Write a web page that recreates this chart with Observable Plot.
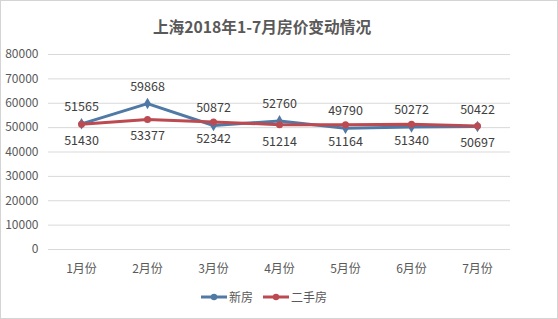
<!DOCTYPE html>
<html>
<head>
<meta charset="utf-8">
<script src="https://cdn.jsdelivr.net/npm/d3@7"></script>
<script src="https://cdn.jsdelivr.net/npm/@observablehq/plot@0.6"></script>
<style>
  html, body { margin: 0; padding: 0; background: #fff; }
  #wrap { width: 558px; height: 319px; box-sizing: border-box; border: 1px solid #d4d4d4; position: relative; font-family: "Noto Sans CJK SC", sans-serif; overflow: hidden; }
  #title { height: 39px; line-height: 52px; text-align: center; font-size: 15.7px; font-weight: bold; color: #595959; padding-right: 34px; }
  #legend { position: absolute; left: 0; right: 30px; top: 287px; display: flex; justify-content: center; align-items: center; font-size: 12px; color: #595959; gap: 10px; }
  .key { display: flex; align-items: center; }
  .key svg { margin-right: 2px; }
</style>
</head>
<body>
<div id="wrap">
  <div id="title">上海2018年1-7月房价变动情况</div>
  <div id="chart"></div>
  <div id="legend"></div>
</div>
<script>
const months = ["1月份", "2月份", "3月份", "4月份", "5月份", "6月份", "7月份"];
const seriesNames = ["新房", "二手房"];
const newHouse = [51565, 59868, 50872, 52760, 49790, 50272, 50422];
const secondHand = [51430, 53377, 52342, 51214, 51164, 51340, 50697];
const yTicks = [0, 10000, 20000, 30000, 40000, 50000, 60000, 70000, 80000];
const colors = ["#5079a6", "#bc4a51"];

const rows = [];
months.forEach((m, i) => {
  rows.push({month: m, value: newHouse[i], series: seriesNames[0]});
  rows.push({month: m, value: secondHand[i], series: seriesNames[1]});
});
const blue = rows.filter(d => d.series === seriesNames[0]);
const red = rows.filter(d => d.series === seriesNames[1]);

const chart = Plot.plot({
  width: 556,
  height: 245,
  marginTop: 14,
  marginBottom: 36,
  marginLeft: 47,
  marginRight: 47,
  style: {fontFamily: "'Noto Sans CJK SC', sans-serif", color: "#595959", background: "transparent"},
  x: {domain: months, type: "point", padding: 0.5, label: null},
  y: {domain: [0, 80000], ticks: yTicks, label: null},
  marks: [
    Plot.gridY(yTicks, {stroke: "#d9d9d9", strokeOpacity: 1, strokeWidth: 1}),
    Plot.axisY(yTicks, {tickSize: 0, tickPadding: 10, fontSize: 12, label: null, tickFormat: d => String(d), fill: "#595959"}),
    Plot.axisX({tickSize: 0, tickPadding: 15, fontSize: 12, label: null, fill: "#595959"}),
    Plot.line(blue, {x: "month", y: "value", stroke: colors[0], strokeWidth: 3}),
    Plot.line(red, {x: "month", y: "value", stroke: colors[1], strokeWidth: 3}),
    Plot.dot(blue, {x: "month", y: "value", fill: colors[0], r: 3.5, symbol: "diamond"}),
    Plot.dot(red, {x: "month", y: "value", fill: colors[1], r: 3.5}),
    Plot.text(blue, {x: "month", y: "value", text: d => String(d.value), dy: -17, fontSize: 12.5, fill: "#404040"}),
    Plot.text(red, {x: "month", y: "value", text: d => String(d.value), dy: 17, fontSize: 12.5, fill: "#404040"})
  ]
});
document.getElementById("chart").appendChild(chart);

const legend = document.getElementById("legend");
seriesNames.forEach((name, i) => {
  const k = document.createElement("div");
  k.className = "key";
  k.innerHTML = `<svg width="26" height="10"><line x1="0" y1="5" x2="26" y2="5" stroke="${colors[i]}" stroke-width="3"/><circle cx="13" cy="5" r="3.2" fill="${colors[i]}"/></svg><span>${name}</span>`;
  legend.appendChild(k);
});
</script>
</body>
</html>
